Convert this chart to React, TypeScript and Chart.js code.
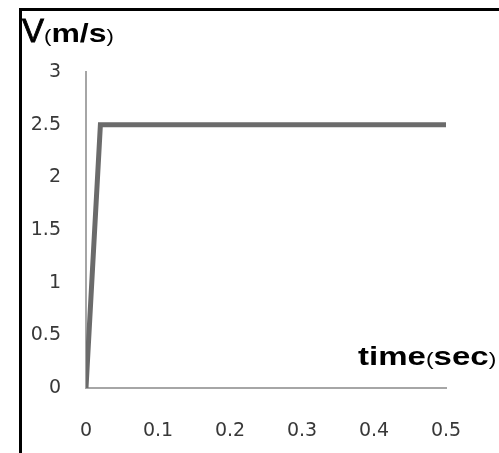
import React, { useEffect, useRef } from "react";
import { Chart, registerables } from "chart.js";

Chart.register(...registerables);

const timeValues = [0, 0.02, 0.5];
const velocityValues = [0, 2.5, 2.5];
const xTickLabels = ["0", "0.1", "0.2", "0.3", "0.4", "0.5"];
const yTickLabels = ["0", "0.5", "1", "1.5", "2", "2.5", "3"];

export default function App() {
  const ref = useRef<HTMLCanvasElement | null>(null);

  useEffect(() => {
    if (!ref.current) return;
    const tickFont = { family: "'DejaVu Sans', sans-serif", size: 19 };
    const chart = new Chart(ref.current, {
      type: "line",
      data: {
        datasets: [
          {
            data: timeValues.map((t, i) => ({ x: t, y: velocityValues[i] })),
            borderColor: "#6b6b6b",
            borderWidth: 5,
            pointRadius: 0,
            borderJoinStyle: "miter",
            borderCapStyle: "butt",
            tension: 0,
            fill: false,
          },
        ],
      },
      options: {
        responsive: false,
        animation: false,
        devicePixelRatio: 1,
        layout: { padding: { left: 0, top: 72, right: 53, bottom: 0 } },
        plugins: { legend: { display: false }, tooltip: { enabled: false } },
        scales: {
          x: {
            type: "linear",
            min: 0,
            max: 0.5,
            afterFit: (s: any) => {
              s.height = 65;
            },
            grid: { display: false, drawTicks: false },
            border: { display: true, color: "#a6a6a6", width: 2 },
            ticks: {
              stepSize: 0.1,
              padding: 32,
              color: "#383838",
              font: tickFont,
              maxRotation: 0,
              autoSkip: false,
              callback: (_v: any, i: number) => xTickLabels[i],
            },
          },
          y: {
            type: "linear",
            min: 0,
            max: 3,
            afterFit: (s: any) => {
              s.width = 86;
            },
            grid: { display: false, drawTicks: false },
            border: { display: true, color: "#a6a6a6", width: 2 },
            ticks: {
              stepSize: 0.5,
              padding: 25,
              color: "#383838",
              font: tickFont,
              autoSkip: false,
              callback: (_v: any, i: number) => yTickLabels[i],
            },
          },
        },
      },
    });
    return () => chart.destroy();
  }, []);

  return (
    <div
      style={{
        position: "absolute",
        left: 0,
        top: 0,
        width: 499,
        height: 453,
        background: "#fff",
        overflow: "hidden",
      }}
    >
      <canvas ref={ref} width={499} height={453} style={{ position: "absolute", left: 0, top: 0 }} />
      <div
        style={{
          position: "absolute",
          left: 19,
          top: 8,
          width: 480,
          height: 445,
          borderTop: "3px solid #000",
          borderLeft: "3px solid #000",
          boxSizing: "border-box",
          pointerEvents: "none",
        }}
      />
      <div
        style={{
          position: "absolute",
          left: 22,
          top: 14,
          fontFamily: "'Liberation Sans', Arial, sans-serif",
          fontSize: 33,
          lineHeight: "33px",
          whiteSpace: "nowrap",
          color: "#000",
        }}
      >
        <span style={{ WebkitTextStroke: "0.8px #000" }}>V</span>
        <span style={{ display: "inline-block", transform: "scaleX(1.23)", transformOrigin: "left" }}>
          <span style={{ fontSize: 18 }}>(</span>
          <span style={{ fontSize: 26, fontWeight: "bold" }}>m/s</span>
          <span style={{ fontSize: 18 }}>)</span>
        </span>
      </div>
      <div
        style={{
          position: "absolute",
          left: 358,
          top: 343,
          fontFamily: "'Liberation Sans', Arial, sans-serif",
          fontSize: 26,
          lineHeight: "26px",
          whiteSpace: "nowrap",
          color: "#000",
          transform: "scaleX(1.27)",
          transformOrigin: "left",
        }}
      >
        <span style={{ fontWeight: "bold" }}>time</span>
        <span style={{ fontSize: 18 }}>(</span>
        <span style={{ fontWeight: "bold" }}>sec</span>
        <span style={{ fontSize: 18 }}>)</span>
      </div>
    </div>
  );
}
